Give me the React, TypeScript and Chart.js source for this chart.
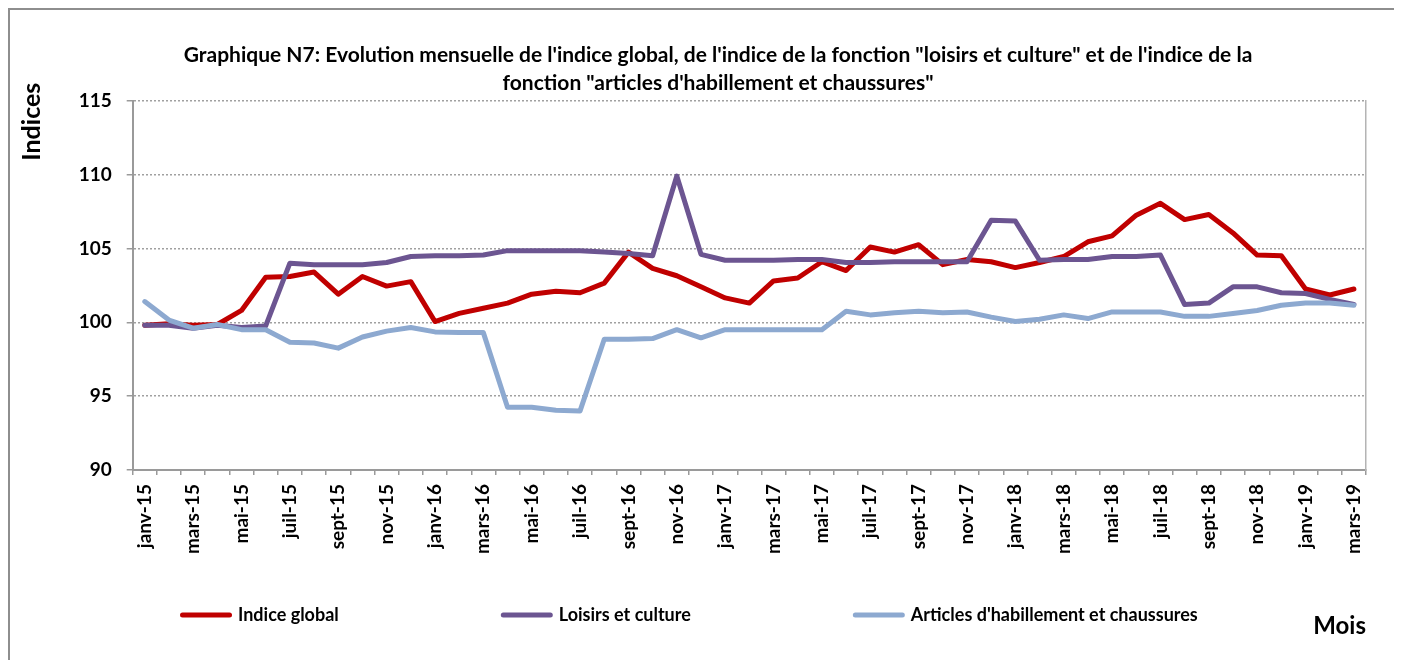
import { useEffect, useRef } from 'react';
import { Chart, registerables } from 'chart.js';

Chart.register(...registerables);

const months = [
  'janv-15', 'févr-15', 'mars-15', 'avr-15', 'mai-15', 'juin-15', 'juil-15', 'août-15', 'sept-15', 'oct-15', 'nov-15', 'déc-15',
  'janv-16', 'févr-16', 'mars-16', 'avr-16', 'mai-16', 'juin-16', 'juil-16', 'août-16', 'sept-16', 'oct-16', 'nov-16', 'déc-16',
  'janv-17', 'févr-17', 'mars-17', 'avr-17', 'mai-17', 'juin-17', 'juil-17', 'août-17', 'sept-17', 'oct-17', 'nov-17', 'déc-17',
  'janv-18', 'févr-18', 'mars-18', 'avr-18', 'mai-18', 'juin-18', 'juil-18', 'août-18', 'sept-18', 'oct-18', 'nov-18', 'déc-18',
  'janv-19', 'févr-19', 'mars-19',
];

const indiceGlobal = [
  99.8, 99.9, 99.8, 99.85, 100.8, 103.05, 103.1, 103.4, 101.9, 103.1, 102.45, 102.75,
  100.05, 100.6, 100.95, 101.3, 101.9, 102.1, 102.0, 102.65, 104.75, 103.65, 103.15, 102.4,
  101.65, 101.3, 102.8, 103.0, 104.1, 103.5, 105.1, 104.75, 105.25, 103.9, 104.25, 104.1,
  103.7, 104.05, 104.45, 105.45, 105.85, 107.25, 108.05, 106.95, 107.3, 106.05, 104.55, 104.5,
  102.25, 101.85, 102.25,
];

const loisirsCulture = [
  99.8, 99.8, 99.6, 99.8, 99.65, 99.75, 104.0, 103.9, 103.9, 103.9, 104.05, 104.45,
  104.5, 104.5, 104.55, 104.85, 104.85, 104.85, 104.85, 104.75, 104.65, 104.5, 109.9, 104.6,
  104.2, 104.2, 104.2, 104.25, 104.25, 104.05, 104.05, 104.1, 104.1, 104.1, 104.1, 106.9,
  106.85, 104.2, 104.25, 104.25, 104.45, 104.45, 104.55, 101.2, 101.3, 102.4, 102.4, 102.0,
  101.95, 101.55, 101.2,
];

const habillement = [
  101.4, 100.15, 99.6, 99.85, 99.5, 99.5, 98.65, 98.6, 98.25, 99.0, 99.4, 99.65,
  99.35, 99.3, 99.3, 94.25, 94.25, 94.05, 94.0, 98.85, 98.85, 98.9, 99.5, 98.95,
  99.5, 99.5, 99.5, 99.5, 99.5, 100.75, 100.5, 100.65, 100.75, 100.65, 100.7, 100.35,
  100.05, 100.2, 100.5, 100.25, 100.7, 100.7, 100.7, 100.4, 100.4, 100.6, 100.8, 101.15,
  101.3, 101.3, 101.15,
];

const seriesNames = ['Indice global', 'Loisirs et culture', "Articles d'habillement et chaussures"];
const seriesColors = ['#C00000', '#6C5591', '#8DA9D0'];

const titleLines = [
  'Graphique N7: Evolution mensuelle de l\'indice global, de l\'indice de la fonction "loisirs et culture" et de l\'indice de la',
  'fonction "articles d\'habillement et chaussures"',
];
const yAxisTitle = 'Indices';
const xAxisTitle = 'Mois';
const yMin = 90;
const yMax = 115;
const yStep = 5;

const FONT = 'Lato, "Open Sans", sans-serif';

const extraText = {
  id: 'extraText',
  afterDraw(chart: any) {
    const { ctx, chartArea } = chart;
    ctx.save();
    ctx.fillStyle = '#000';
    // y axis title, rotated, near the top
    ctx.font = `bold 25px ${FONT}`;
    ctx.textAlign = 'center';
    ctx.textBaseline = 'middle';
    ctx.save();
    ctx.translate(chartArea.left - 101, chartArea.top + 21);
    ctx.rotate(-Math.PI / 2);
    ctx.fillText(yAxisTitle, 0, 0);
    ctx.restore();
    // x axis title, bottom right
    ctx.font = `bold 24px ${FONT}`;
    ctx.textAlign = 'right';
    ctx.fillText(xAxisTitle, chartArea.right, 616);
    // legend
    ctx.font = `bold 18px ${FONT}`;
    ctx.textAlign = 'left';
    const y = 605;
    let x = 170;
    chart.data.datasets.forEach((ds: any) => {
      ctx.strokeStyle = ds.borderColor;
      ctx.lineWidth = 5;
      ctx.lineCap = 'round';
      ctx.beginPath();
      ctx.moveTo(x + 2.5, y);
      ctx.lineTo(x + 49.5, y);
      ctx.stroke();
      ctx.fillStyle = '#000';
      ctx.fillText(ds.label, x + 58, y);
      x += 58 + ctx.measureText(ds.label).width + 162;
    });
    ctx.restore();
  },
};

export default function App() {
  const ref = useRef<HTMLCanvasElement>(null);

  useEffect(() => {
    if (!ref.current) return;
    const series = [indiceGlobal, loisirsCulture, habillement];
    const chart = new Chart(ref.current, {
      type: 'line',
      data: {
        labels: months,
        datasets: series.map((d, i) => ({
          label: seriesNames[i],
          data: d,
          borderColor: seriesColors[i],
          backgroundColor: seriesColors[i],
          borderWidth: 5,
          pointRadius: 0,
          tension: 0,
          fill: false,
          borderJoinStyle: 'round',
          borderCapStyle: 'round',
          order: 3 - i,
        })),
      },
      options: {
        responsive: false,
        animation: false,
        layout: { padding: { left: 26, right: 0, top: 0, bottom: 100 } },
        plugins: {
          legend: { display: false },
          tooltip: { enabled: false },
          title: {
            display: true,
            text: titleLines,
            color: '#000',
            font: { family: FONT, size: 21, weight: 'bold', lineHeight: 28 / 21 },
            padding: { top: 31, bottom: 3.7 },
          },
        },
        scales: {
          x: {
            type: 'category',
            offset: true,
            grid: {
              offset: true,
              drawOnChartArea: false,
              drawTicks: true,
              tickLength: 5,
              color: '#9a9a9a',
              lineWidth: 1.5,
            },
            border: { display: true, color: '#9a9a9a', width: 2 },
            ticks: {
              autoSkip: false,
              maxRotation: 90,
              minRotation: 90,
              padding: 9,
              color: '#000',
              font: { family: FONT, size: 19, weight: 'bold' },
              callback: (_v: any, i: number) => (i % 2 === 0 ? months[i] : ''),
            },
            afterFit: (s: any) => {
              s.height = 90;
            },
          },
          y: {
            min: yMin,
            max: yMax,
            ticks: {
              stepSize: yStep,
              padding: 15,
              color: '#000',
              font: { family: FONT, size: 19, weight: 'bold' },
            },
            grid: {
              color: '#a0a0a0',
              lineWidth: 1.5,
              tickLength: 6,
              tickBorderDash: [],
              tickColor: '#9a9a9a',
            },
            border: { display: true, dash: [2, 2], color: '#9a9a9a', width: 2 },
            afterFit: (s: any) => {
              s.width = 96.7;
            },
          },
          y1: {
            type: 'linear',
            position: 'right',
            display: true,
            grid: { display: true, drawOnChartArea: false, drawTicks: false },
            ticks: { display: false },
            border: { display: true, color: '#b4b4b4', width: 1.5 },
            afterFit: (s: any) => {
              s.width = 34;
            },
          },
        },
      },
      plugins: [extraText],
    } as any);
    return () => chart.destroy();
  }, []);

  return (
    <div
      style={{
        width: 1394,
        height: 652,
        boxSizing: 'border-box',
        border: '2px solid #8e8e8e',
        borderBottom: 'none',
        background: '#fff',
      }}
    >
      <canvas ref={ref} width={1390} height={650} style={{ display: 'block' }} />
    </div>
  );
}
